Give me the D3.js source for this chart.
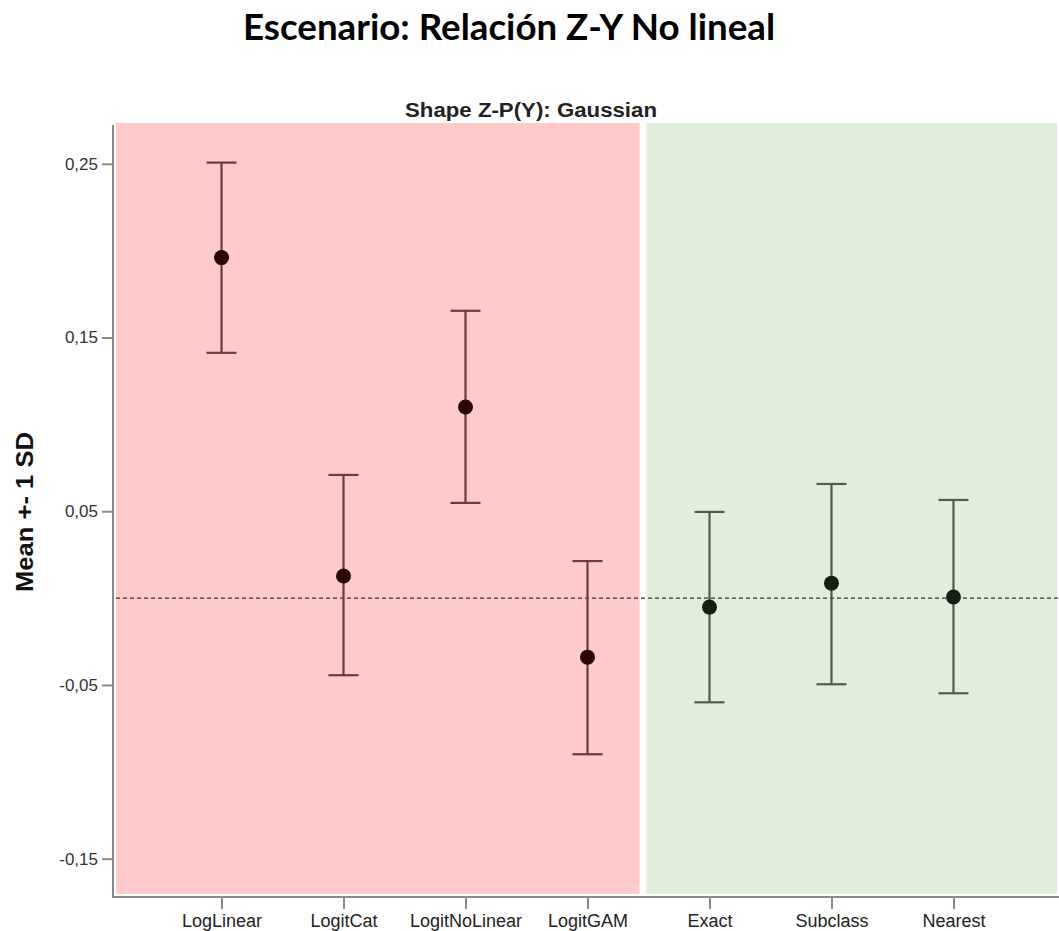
<!DOCTYPE html>
<html>
<head>
<meta charset="utf-8">
<script src="https://cdn.jsdelivr.net/npm/d3@7"></script>
<style>
html,body{margin:0;padding:0;background:#fff;}
svg{display:block;}
</style>
</head>
<body>
<svg id="chart" width="1059" height="931"></svg>
<script>
const categories = ["LogLinear","LogitCat","LogitNoLinear","LogitGAM","Exact","Subclass","Nearest"];
const groups = ["model","model","model","model","match","match","match"];
const means = [0.196, 0.0127, 0.110, -0.034, -0.0052, 0.0086, 0.0006];
const lowers = [0.1412, -0.0444, 0.0548, -0.0899, -0.0600, -0.0496, -0.0548];
const uppers = [0.2507, 0.0709, 0.1654, 0.0213, 0.0496, 0.0657, 0.0565];
const yTicks = [-0.15, -0.05, 0.05, 0.15, 0.25];
const titleText = "Escenario: Relación Z-Y No lineal";
const subtitleText = "Shape Z-P(Y): Gaussian";
const yLabel = "Mean +- 1 SD";

const svg = d3.select("#chart");
const pLeft = 116, pRight = 1059, pTop = 123, pBottom = 896;

const x = d3.scalePoint().domain(categories).range([pLeft, pRight]).padding(0.865);
const y = d3.scaleLinear().domain([-0.1715, 0.2735]).range([pBottom, pTop]);

// background panels
const split = (x("LogitGAM") + x("Exact")) / 2;
svg.append("rect").attr("x", pLeft).attr("y", pTop).attr("width", split - 9 - pLeft).attr("height", pBottom - 2 - pTop).attr("fill", "#ffcaca");
svg.append("rect").attr("x", split - 2).attr("y", pTop).attr("width", pRight - 2 - (split - 2)).attr("height", pBottom - 2 - pTop).attr("fill", "#e0eedb");

// zero reference dashed line
svg.append("line").attr("x1", pLeft).attr("x2", pRight).attr("y1", y(0)).attr("y2", y(0))
  .attr("stroke", "#333").attr("stroke-width", 1.4).attr("stroke-dasharray", "4,3");

// axes
const axisColor = "#8a8a8a";
const yAxis = d3.axisLeft(y).tickValues(yTicks).tickSize(11).tickPadding(4)
  .tickFormat(d => d3.format(".2f")(d).replace(".", ",").replace("\u2212", "-"));
const gy = svg.append("g").attr("transform", `translate(${pLeft - 3},0)`).call(yAxis);
gy.select(".domain").remove();
gy.selectAll(".tick line").attr("stroke", axisColor).attr("stroke-width", 2);
gy.selectAll(".tick text").attr("font-family", "Liberation Sans, Arial, sans-serif").attr("font-size", 17).attr("fill", "#333");

const xAxis = d3.axisBottom(x).tickSize(12).tickPadding(5);
const gx = svg.append("g").attr("transform", `translate(0,${pBottom + 1})`).call(xAxis);
gx.select(".domain").remove();
gx.selectAll(".tick line").attr("stroke", axisColor).attr("stroke-width", 2);
gx.selectAll(".tick text").attr("font-family", "Liberation Sans, Arial, sans-serif").attr("font-size", 18).attr("fill", "#222");

// axis lines
svg.append("line").attr("x1", pLeft - 3).attr("x2", pLeft - 3).attr("y1", pTop + 2).attr("y2", pBottom + 1).attr("stroke", axisColor).attr("stroke-width", 2);
svg.append("line").attr("x1", pLeft - 4).attr("x2", pRight).attr("y1", pBottom + 1).attr("y2", pBottom + 1).attr("stroke", axisColor).attr("stroke-width", 2);

// error bars
const data = categories.map((c, i) => ({c, g: groups[i], m: means[i], lo: lowers[i], hi: uppers[i]}));
const barColor = g => g === "model" ? "#6e3a3a" : "#4e5e4b";
const dotColor = g => g === "model" ? "#2a0303" : "#122012";
const capW = 15;
const eb = svg.append("g").selectAll("g").data(data).join("g");
eb.append("line").attr("x1", d => x(d.c)).attr("x2", d => x(d.c)).attr("y1", d => y(d.lo)).attr("y2", d => y(d.hi))
  .attr("stroke", d => barColor(d.g)).attr("stroke-width", 2.2);
eb.append("line").attr("x1", d => x(d.c) - capW).attr("x2", d => x(d.c) + capW).attr("y1", d => y(d.hi)).attr("y2", d => y(d.hi))
  .attr("stroke", d => barColor(d.g)).attr("stroke-width", 2.2);
eb.append("line").attr("x1", d => x(d.c) - capW).attr("x2", d => x(d.c) + capW).attr("y1", d => y(d.lo)).attr("y2", d => y(d.lo))
  .attr("stroke", d => barColor(d.g)).attr("stroke-width", 2.2);
eb.append("circle").attr("cx", d => x(d.c)).attr("cy", d => y(d.m)).attr("r", 7.5).attr("fill", d => dotColor(d.g));

// titles
svg.append("text").attr("x", 509).attr("y", 40).attr("text-anchor", "middle")
  .attr("font-family", "Lato, Liberation Sans, sans-serif").attr("font-weight", "bold").attr("font-size", 36)
  .attr("textLength", 532).attr("lengthAdjust", "spacingAndGlyphs").attr("fill", "#000").text(titleText);
svg.append("text").attr("x", 531).attr("y", 117).attr("text-anchor", "middle")
  .attr("font-family", "Liberation Sans, Arial, sans-serif").attr("font-weight", "bold").attr("font-size", 20)
  .attr("textLength", 252).attr("lengthAdjust", "spacingAndGlyphs").attr("fill", "#222").text(subtitleText);
svg.append("text").attr("transform", "translate(33,512) rotate(-90)").attr("text-anchor", "middle")
  .attr("font-family", "Liberation Sans, Arial, sans-serif").attr("font-weight", "bold").attr("font-size", 23)
  .attr("textLength", 160).attr("lengthAdjust", "spacingAndGlyphs").attr("fill", "#111").text(yLabel);
</script>
</body>
</html>
